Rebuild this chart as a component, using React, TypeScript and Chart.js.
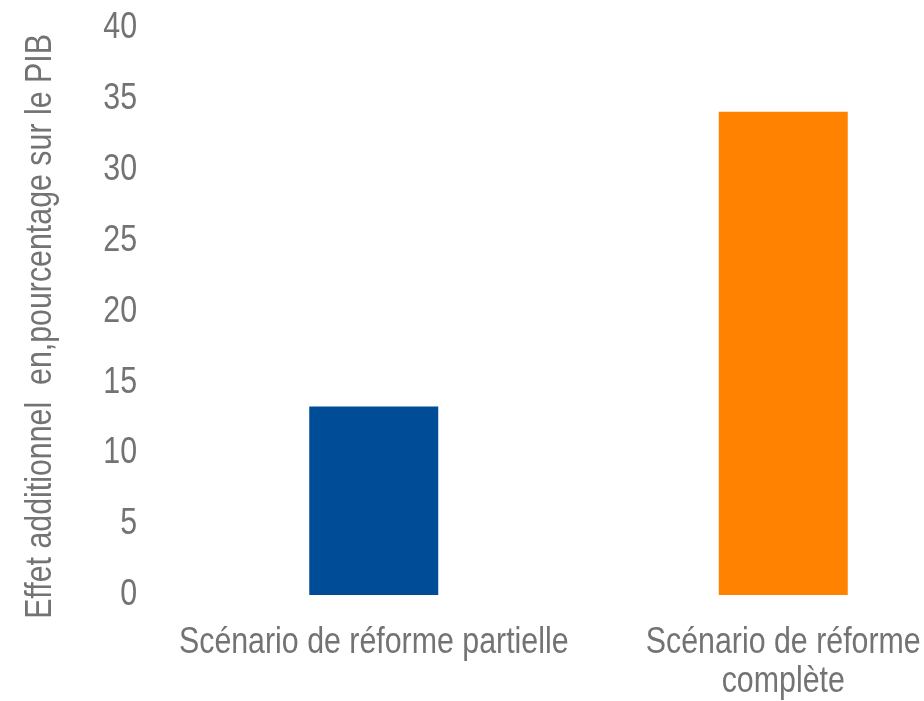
import React, { useEffect, useRef } from "react";
import { Chart, registerables } from "chart.js";

Chart.register(...registerables);

const categories: string[][] = [["Scénario de réforme partielle"], ["Scénario de réforme", "complète"]];
const values: number[] = [13.3, 34.1];
const barColors: string[] = ["#004C97", "#FF8300"];
const yTicks: number[] = [0, 5, 10, 15, 20, 25, 30, 35, 40];
const yTitle = "Effet additionnel  en,pourcentage sur le PIB";

const FONT = "'Liberation Sans', Arial, sans-serif";
const SIZE = 37;
const NARROW = 0.82;
const GRAY = "#737373";

function narrowText(ctx: CanvasRenderingContext2D, text: string, x: number, y: number, align: CanvasTextAlign, rot = 0) {
  ctx.save();
  ctx.translate(x, y);
  if (rot) ctx.rotate(rot);
  ctx.scale(NARROW, 1);
  ctx.textAlign = align;
  ctx.fillText(text, 0, 0);
  ctx.restore();
}

const labelPlugin = {
  id: "narrowLabels",
  afterDraw(chart: any) {
    const ctx: CanvasRenderingContext2D = chart.ctx;
    const xs = chart.scales.x;
    const ys = chart.scales.y;
    const area = chart.chartArea;
    ctx.save();
    ctx.fillStyle = GRAY;
    ctx.font = `${SIZE}px ${FONT}`;
    ctx.textBaseline = "middle";
    yTicks.forEach((v) => {
      narrowText(ctx, String(v), area.left - 32, ys.getPixelForValue(v), "right");
    });
    ctx.textBaseline = "alphabetic";
    categories.forEach((lines, i) => {
      const cx = xs.getPixelForValue(i);
      lines.forEach((line, j) => {
        narrowText(ctx, line, cx, area.bottom + 58 + j * 39, "center");
      });
    });
    narrowText(ctx, yTitle, area.left - 118, (area.top + area.bottom) / 2 + 15, "center", -Math.PI / 2);
    ctx.restore();
  },
};

export default function App() {
  const ref = useRef<HTMLCanvasElement | null>(null);
  useEffect(() => {
    if (!ref.current) return;
    const chart = new Chart(ref.current, {
      type: "bar",
      data: {
        labels: categories,
        datasets: [
          {
            data: values,
            backgroundColor: barColors,
            barPercentage: 0.63,
            categoryPercentage: 0.5,
          },
        ],
      },
      options: {
        animation: false,
        responsive: false,
        layout: { padding: { top: 28, right: 12, left: 169, bottom: 106 } },
        plugins: { legend: { display: false }, tooltip: { enabled: false } },
        scales: {
          x: { display: false, grid: { display: false } },
          y: { display: false, min: 0, max: 40, grid: { display: false } },
        },
      },
      plugins: [labelPlugin],
    });
    return () => chart.destroy();
  }, []);
  return (
    <div style={{ position: "fixed", left: 0, top: 0, width: 924, height: 701, overflow: "hidden", background: "#fff" }}>
      <canvas ref={ref} width={1000} height={701} style={{ width: 1000, height: 701, display: "block" }} />
    </div>
  );
}
